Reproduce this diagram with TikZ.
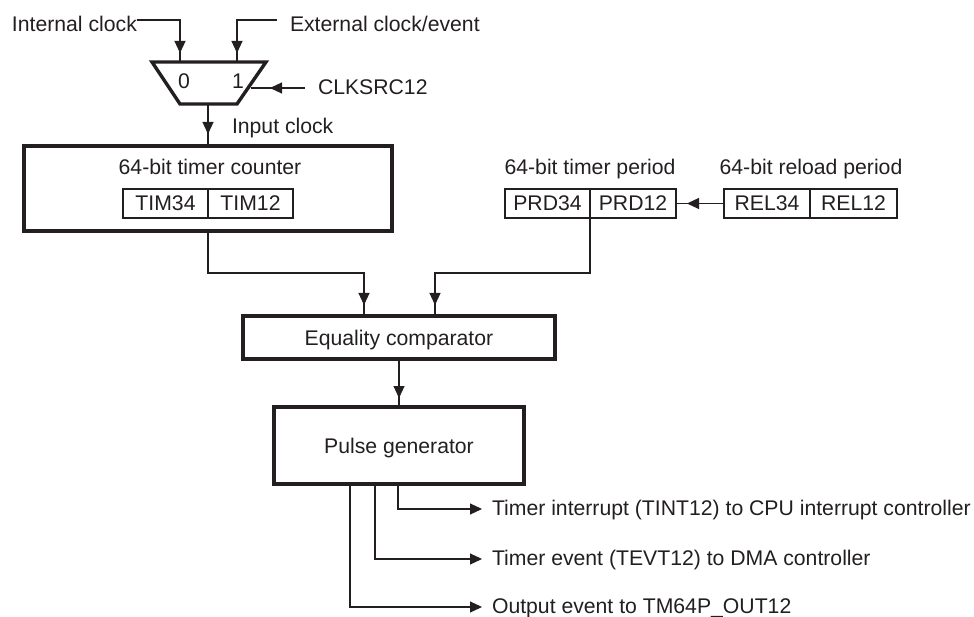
\documentclass[tikz,border=0pt]{standalone}
\usepackage{fontspec}
\setmainfont{Liberation Sans}
\usetikzlibrary{arrows.meta,decorations.markings}
\definecolor{ink}{HTML}{231F20}
\begin{document}
\begin{tikzpicture}[x=1pt,y=-1pt,
  font=\fontsize{21.2}{25}\selectfont,
  every node/.style={inner sep=0pt, outer sep=0pt, text=ink},
  thickbox/.style={draw=ink, line width=3.4pt, text height=15pt, text depth=0pt},
  regbox/.style={draw=ink, line width=2pt, minimum width=85pt, minimum height=29pt, text height=15pt, text depth=0pt},
  conn/.style={draw=ink, color=ink, line width=1.2pt},
  tip/.style={-{Triangle[length=12pt,width=11pt]}},
  midarr/.style={postaction={decorate}, decoration={markings, mark=at position #1 with {\arrow{Triangle[length=12pt,width=11pt]}}}},
  lbl/.style={anchor=base west},
]
\useasboundingbox (0,0) rectangle (974,617);

% labels at top
\node[lbl] (ic) at (12,31.5) {Internal clock};
\node[lbl] (ec) at (290,31.5) {External clock/event};
\node[lbl] (cs) at (318,95) {CLKSRC12};
\node[lbl] (inclk) at (232,133.5) {Input clock};

% multiplexer
\coordinate (mTL) at (152,62);
\coordinate (mTR) at (266,62);
\coordinate (mBR) at (237,104);
\coordinate (mBL) at (180,104);
\draw[ink, line width=3.4pt, line join=miter] (mTL) -- (mTR) -- (mBR) -- (mBL) -- cycle;
\node[anchor=base] (d0) at (184,89) {0};
\node[anchor=base] (d1) at (238,89) {1};
\coordinate (in0) at (180,62);
\coordinate (in1) at (237,62);
\coordinate (sel) at (251,88);
\coordinate (muxout) at (208,104);

\coordinate (icE) at (137,20);
\coordinate (ecW) at (277,20);
\coordinate (csW) at (305,88);

% counter
\node[thickbox, minimum width=368pt, minimum height=85pt] (counter) at (208,188.5) {};
\node[anchor=base] (ctitle) at (210,175) {64-bit timer counter};
\node[regbox] (tim34) at (165.5,203.5) {TIM34};
\node[regbox] (tim12) at (250.5,203.5) {TIM12};

% period
\node[anchor=base] (ptitle) at (590,175) {64-bit timer period};
\node[regbox] (prd34) at (547.5,203.5) {PRD34};
\node[regbox, minimum width=86pt] (prd12) at (633,203.5) {PRD12};

% reload
\node[anchor=base] (rtitle) at (811,175) {64-bit reload period};
\node[regbox, minimum width=86pt] (rel34) at (767,203.5) {REL34};
\node[regbox, minimum width=87pt] (rel12) at (853.5,203.5) {REL12};

% comparator and pulse generator
\node[thickbox, minimum width=312pt, minimum height=43pt] (eq) at (399,337.5) {Equality comparator};
\node[thickbox, minimum width=250pt, minimum height=77pt] (pulse) at (399,445.5) {Pulse generator};

% outputs
\node[lbl] (o1) at (492,515) {Timer interrupt (TINT12) to CPU interrupt controller};
\node[lbl] (o2) at (492,565) {Timer event (TEVT12) to DMA controller};
\node[lbl] (o3) at (492,613) {Output event to TM64P\_OUT12};
\coordinate (o1W) at (482,509);
\coordinate (o2W) at (482,559);
\coordinate (o3W) at (482,607);

% connectors
\draw[conn, midarr=-9pt] (icE) -| (in0);
\draw[conn, midarr=-9pt] (ecW) -| (in1);
\draw[conn, midarr=-19pt] (csW) -- (sel);
\draw[conn, midarr=-12pt] (muxout) -- (counter.north);
\draw[conn, midarr=-11pt] (counter.south) -- ++(0,42) -| ([xshift=-35pt]eq.north);
\draw[conn, midarr=-11pt] (prd34.south east) -- ++(0,55) -| ([xshift=36pt]eq.north);
\draw[conn, midarr=-11pt] (rel34.west) -- (prd12.east);
\draw[conn, midarr=-9pt] (eq.south) -- (pulse.north);
\draw[conn, tip] ([xshift=-1pt]pulse.south) |- (o1W);
\draw[conn, tip] ([xshift=-24pt]pulse.south) |- (o2W);
\draw[conn, tip] ([xshift=-49pt]pulse.south) |- (o3W);
\end{tikzpicture}
\end{document}
